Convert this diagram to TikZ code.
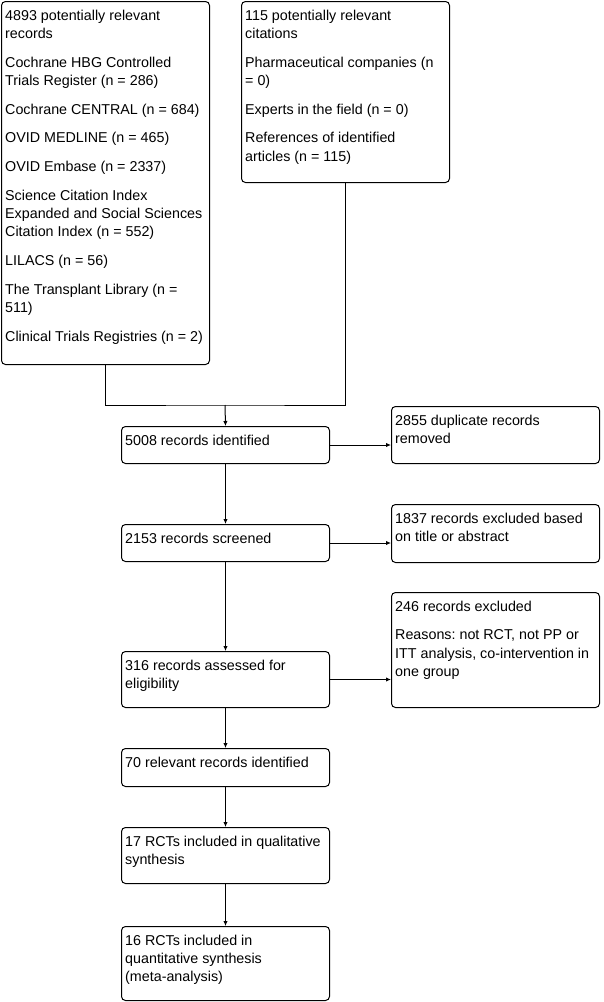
\documentclass[tikz,border=0pt]{standalone}
\usepackage{fontspec}
\setmainfont{Liberation Sans}
\usetikzlibrary{arrows.meta}
\frenchspacing
\tikzset{
  box/.style={draw, line width=1pt, rounded corners=4pt, anchor=north west, inner sep=0pt, minimum width=208pt},
  txt/.style={anchor=base west, inner sep=0pt},
  ln/.style={line width=1pt},
  arr/.style={line width=1pt, -{Latex[length=5pt,width=4.5pt]}}
}
\newcommand{\pgap}{\\[10.4pt]}
\newcommand{\bt}[1]{\parbox[t]{230pt}{\raggedright\frenchspacing\fontsize{14.3}{18.3}\selectfont #1}}
\begin{document}
\begin{tikzpicture}[x=1pt,y=-1pt]
\useasboundingbox (0,0) rectangle (603,1002);
% boxes
\node[box, minimum height=363pt] (src1) at (1,1) {};
\node[box, minimum height=181pt] (src2) at (241,1) {};
\node[box, minimum height=37pt] (ident) at (121,426) {};
\node[box, minimum height=57pt] (dup) at (391,406) {};
\node[box, minimum height=37pt] (screen) at (121,524) {};
\node[box, minimum height=58pt] (excl1) at (391,504) {};
\node[box, minimum height=56pt] (assess) at (121,651) {};
\node[box, minimum height=115pt] (excl2) at (391,592) {};
\node[box, minimum height=38pt] (rel) at (121,748) {};
\node[box, minimum height=56pt] (qual) at (121,827) {};
\node[box, minimum height=74pt] (quant) at (121,926) {};
% texts
\node[txt] (t1) at ([xshift=4pt,yshift=-19pt]src1.north west) {\bt{4893 potentially relevant\\records\pgap Cochrane HBG Controlled\\Trials Register (n = 286)\pgap Cochrane CENTRAL (n = 684)\pgap OVID MEDLINE (n = 465)\pgap OVID Embase (n = 2337)\pgap Science Citation Index\\Expanded and Social Sciences\\Citation Index (n = 552)\pgap LILACS (n = 56)\pgap The Transplant Library (n =\\511)\pgap Clinical Trials Registries (n = 2)}};
\node[txt] (t2) at ([xshift=4pt,yshift=-19pt]src2.north west) {\bt{115 potentially relevant\\citations\pgap Pharmaceutical companies (n\\= 0)\pgap Experts in the field (n = 0)\pgap References of identified\\articles (n = 115)}};
\node[txt] (t3) at ([xshift=4pt,yshift=-19pt]ident.north west) {\bt{5008 records identified}};
\node[txt] (t4) at ([xshift=4pt,yshift=-19pt]dup.north west) {\bt{2855 duplicate records\\removed}};
\node[txt] (t5) at ([xshift=4pt,yshift=-19pt]screen.north west) {\bt{2153 records screened}};
\node[txt] (t6) at ([xshift=4pt,yshift=-19pt]excl1.north west) {\bt{1837 records excluded based\\on title or abstract}};
\node[txt] (t7) at ([xshift=4pt,yshift=-19pt]assess.north west) {\bt{316 records assessed for\\eligibility}};
\node[txt] (t8) at ([xshift=4pt,yshift=-19pt]excl2.north west) {\bt{246 records excluded\pgap Reasons: not RCT, not PP or\\ITT analysis, co-intervention in\\one group}};
\node[txt] (t9) at ([xshift=4pt,yshift=-19pt]rel.north west) {\bt{70 relevant records identified}};
\node[txt] (t10) at ([xshift=4pt,yshift=-19pt]qual.north west) {\bt{17 RCTs included in qualitative\\synthesis}};
\node[txt] (t11) at ([xshift=4pt,yshift=-19pt]quant.north west) {\bt{16 RCTs included in\\quantitative synthesis\\(meta-analysis)}};
% connectors
\coordinate (j) at (225,405);
\draw[ln] (src1.south) |- (j) -| (src2.south);
\draw[arr] (j) -- (ident.north);
\draw[arr] (ident.south) -- (screen.north);
\draw[arr] (screen.south) -- (assess.north);
\draw[arr] (assess.south) -- (rel.north);
\draw[arr] (rel.south) -- (qual.north);
\draw[arr] (qual.south) -- (quant.north);
\draw[arr] (ident.east) -- (ident.east -| dup.west);
\draw[arr] (screen.east) -- (screen.east -| excl1.west);
\draw[arr] (assess.east) -- (assess.east -| excl2.west);
\end{tikzpicture}
\end{document}
